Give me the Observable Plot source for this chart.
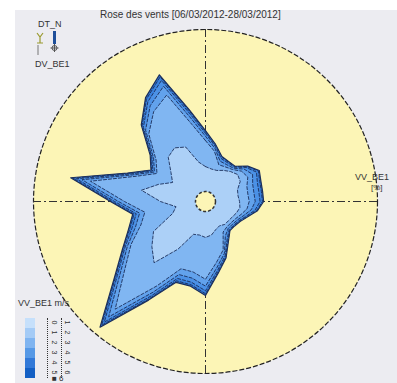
<!DOCTYPE html>
<html><head><meta charset="utf-8">
<script src="https://cdn.jsdelivr.net/npm/d3@7"></script>
<script src="https://cdn.jsdelivr.net/npm/@observablehq/plot@0.6"></script>
<style>
body{margin:0;background:#fff;font-family:"Liberation Sans",Arial,sans-serif;}
#wrap{position:relative;width:397px;height:383px;overflow:hidden;}
#panel{position:absolute;left:15px;top:10px;width:382px;height:373px;background:#ececf1;}
#chart{position:absolute;left:0;top:0;}
.lbl{position:absolute;font-size:9px;color:#333;white-space:nowrap;line-height:1;}
.cell{position:absolute;left:25px;width:10px;height:10px;}
.dig{position:absolute;font-size:7px;color:#333;transform:rotate(90deg);line-height:1;}
</style></head><body>
<div id="wrap"><div id="panel"></div><div id="chart"></div></div>
<script>
// Directions (degrees, clockwise from north)
const directions = [0,10,20,30,40,50,60,70,80,90,100,110,120,130,140,150,160,170,180,190,200,210,220,230,240,250,260,270,280,290,300,310,320,330,340,350];
// Speed classes (m/s)
const classes = ["0-1","1-2","2-3","3-4","4-5","5-6"];
const classColors = ["#acd0f7","#80b6f2","#62a2ec","#4b91e6","#3a82de","#2d74d4"];
// Frequencies (%) per direction for each speed class
const f01 = [2.03,1.92,1.92,2.09,2.27,2.44,2.33,1.98,1.92,1.98,2.03,1.92,1.80,1.74,1.74,1.63,1.74,1.98,2.09,1.98,2.03,3.20,4.65,4.07,3.49,2.03,1.74,2.62,3.78,2.91,2.21,2.62,3.37,3.60,3.37,2.33];
const f12 = [1.51,1.05,0.35,0.23,0.16,0.30,0.51,0.58,0.58,0.56,0.42,0.28,0.21,0.19,0.19,0.42,1.26,1.63,2.43,2.18,2.13,2.47,3.52,2.05,1.51,1.97,1.84,2.09,3.01,1.38,1.05,1.13,1.76,2.43,3.22,2.22];
const f23 = [0.25,0.17,0.22,0.15,0.10,0.19,0.32,0.36,0.36,0.35,0.26,0.17,0.13,0.12,0.12,0.26,0.21,0.27,0.40,0.36,0.36,0.41,0.59,0.34,0.25,0.33,0.31,0.35,0.50,0.23,0.17,0.19,0.29,0.40,0.54,0.37];
const f34 = [0.17,0.12,0.17,0.12,0.08,0.15,0.26,0.29,0.29,0.28,0.21,0.14,0.10,0.09,0.09,0.21,0.14,0.18,0.27,0.24,0.24,0.27,0.39,0.23,0.17,0.22,0.20,0.23,0.33,0.15,0.12,0.13,0.20,0.27,0.36,0.25];
const f45 = [0.10,0.07,0.09,0.06,0.04,0.08,0.13,0.15,0.15,0.14,0.10,0.07,0.05,0.05,0.05,0.10,0.09,0.11,0.17,0.15,0.15,0.17,0.24,0.14,0.10,0.14,0.13,0.15,0.21,0.10,0.07,0.08,0.12,0.17,0.22,0.15];
const f56 = [0.06,0.04,0.04,0.03,0.02,0.04,0.06,0.07,0.07,0.07,0.05,0.03,0.03,0.02,0.02,0.05,0.05,0.07,0.10,0.09,0.09,0.10,0.15,0.09,0.06,0.08,0.08,0.09,0.13,0.06,0.04,0.05,0.07,0.10,0.13,0.09];
const maxPct = 10;
const legendLower = ["0","1","2","3","4","5"];
const legendUpper = ["1","2","3","4","5","6"];

const series = [f01,f12,f23,f34,f45,f56];
// cumulative stacked radii
const layers = classes.map((c, k) => directions.map((deg, i) => {
  const r = d3.sum(series.slice(0, k + 1), s => s[i]);
  const a = deg * Math.PI / 180;
  return {cls: c, deg, r, x: r * Math.sin(a), y: r * Math.cos(a)};
}));

const cx = 205, cy = 201, R = 172;
const polyMarks = [];
for (let k = classes.length - 1; k >= 0; k--) {
  polyMarks.push(Plot.line(layers[k], {
    x: "x", y: "y", curve: "linear-closed",
    fill: classColors[k], stroke: "#1c2f5a",
    strokeWidth: k === classes.length - 1 ? 1.2 : 0.9,
    strokeDasharray: k === classes.length - 1 ? null : "3,2"
  }));
}

const chart = Plot.plot({
  width: 397, height: 383, margin: 0,
  x: {domain: [-maxPct, maxPct], range: [cx - R, cx + R], axis: null},
  y: {domain: [-maxPct, maxPct], range: [cy + R, cy - R], axis: null},
  style: {background: "transparent", overflow: "visible"},
  marks: [
    Plot.dot([{x: 0, y: 0}], {x: "x", y: "y", r: R, fill: "#fcf5b6", stroke: "#222", strokeWidth: 1.2, strokeDasharray: "5,2"}),
    Plot.ruleY([0], {x1: -maxPct, x2: maxPct, stroke: "#333", strokeDasharray: "8,3,2,3"}),
    Plot.ruleX([0], {y1: -maxPct, y2: maxPct, stroke: "#333", strokeDasharray: "8,3,2,3"}),
    ...polyMarks,
    Plot.dot([{x: 0, y: 0}], {x: "x", y: "y", r: 10, fill: "#fcf5b6", stroke: "#333", strokeDasharray: "3,2"})
  ]
});
document.getElementById("chart").appendChild(chart);

const wrap = document.getElementById("wrap");
function lbl(text, left, top, size, extra) {
  const d = document.createElement("div");
  d.className = "lbl"; d.textContent = text;
  d.style.left = left + "px"; d.style.top = top + "px";
  if (size) d.style.fontSize = size + "px";
  if (extra) Object.assign(d.style, extra);
  wrap.appendChild(d); return d;
}
lbl("Rose des vents [06/03/2012-28/03/2012]", 100, 10, 10);
lbl("DT_N", 38, 20, 9);
lbl("DV_BE1", 35, 60, 9);
lbl("VV_BE1", 355, 173, 9);
lbl("[%]", 371, 184, 8);
lbl("VV_BE1 m/s", 18, 299, 9);

// compass icon
const ic = document.createElement("div");
ic.innerHTML = '<svg width="30" height="26" style="position:absolute;left:33px;top:31px"><rect x="20" y="0" width="3" height="13" fill="#1f4f9a"/><path d="M4 2 L7 6 L10 2 M7 6 L7 12 M4 12 L10 12" stroke="#9a9a30" fill="none" stroke-width="1.2"/><circle cx="21.5" cy="17" r="2.5" fill="none" stroke="#555"/><path d="M21.5 13 V21 M17.5 17 H25.5" stroke="#555"/><path d="M5 14 V24" stroke="#777"/></svg>';
wrap.appendChild(ic);

// legend
const legendColors = ["#c6e0fb","#a4cbf6","#7fb4f0","#5699e6","#3279d8","#135fc4"];
legendColors.forEach((c, i) => {
  const d = document.createElement("div");
  d.className = "cell"; d.style.top = (318 + i * 10) + "px"; d.style.background = c;
  wrap.appendChild(d);
  const a = document.createElement("div"); a.className = "dig"; a.textContent = legendLower[i];
  a.style.left = "53px"; a.style.top = (319 + i * 10) + "px"; wrap.appendChild(a);
  const b = document.createElement("div"); b.className = "dig"; b.textContent = legendUpper[i];
  b.style.left = "66px"; b.style.top = (319 + i * 10) + "px"; wrap.appendChild(b);
});
const ln = document.createElement("div");
ln.style.cssText = "position:absolute;left:47px;top:318px;width:0;height:60px;border-left:1px dotted #333;";
wrap.appendChild(ln);
const ln2 = document.createElement("div");
ln2.style.cssText = "position:absolute;left:61px;top:318px;width:0;height:60px;border-left:1px dotted #333;";
wrap.appendChild(ln2);
lbl("\u25A0 6", 52, 375, 8);
</script>
</body></html>
